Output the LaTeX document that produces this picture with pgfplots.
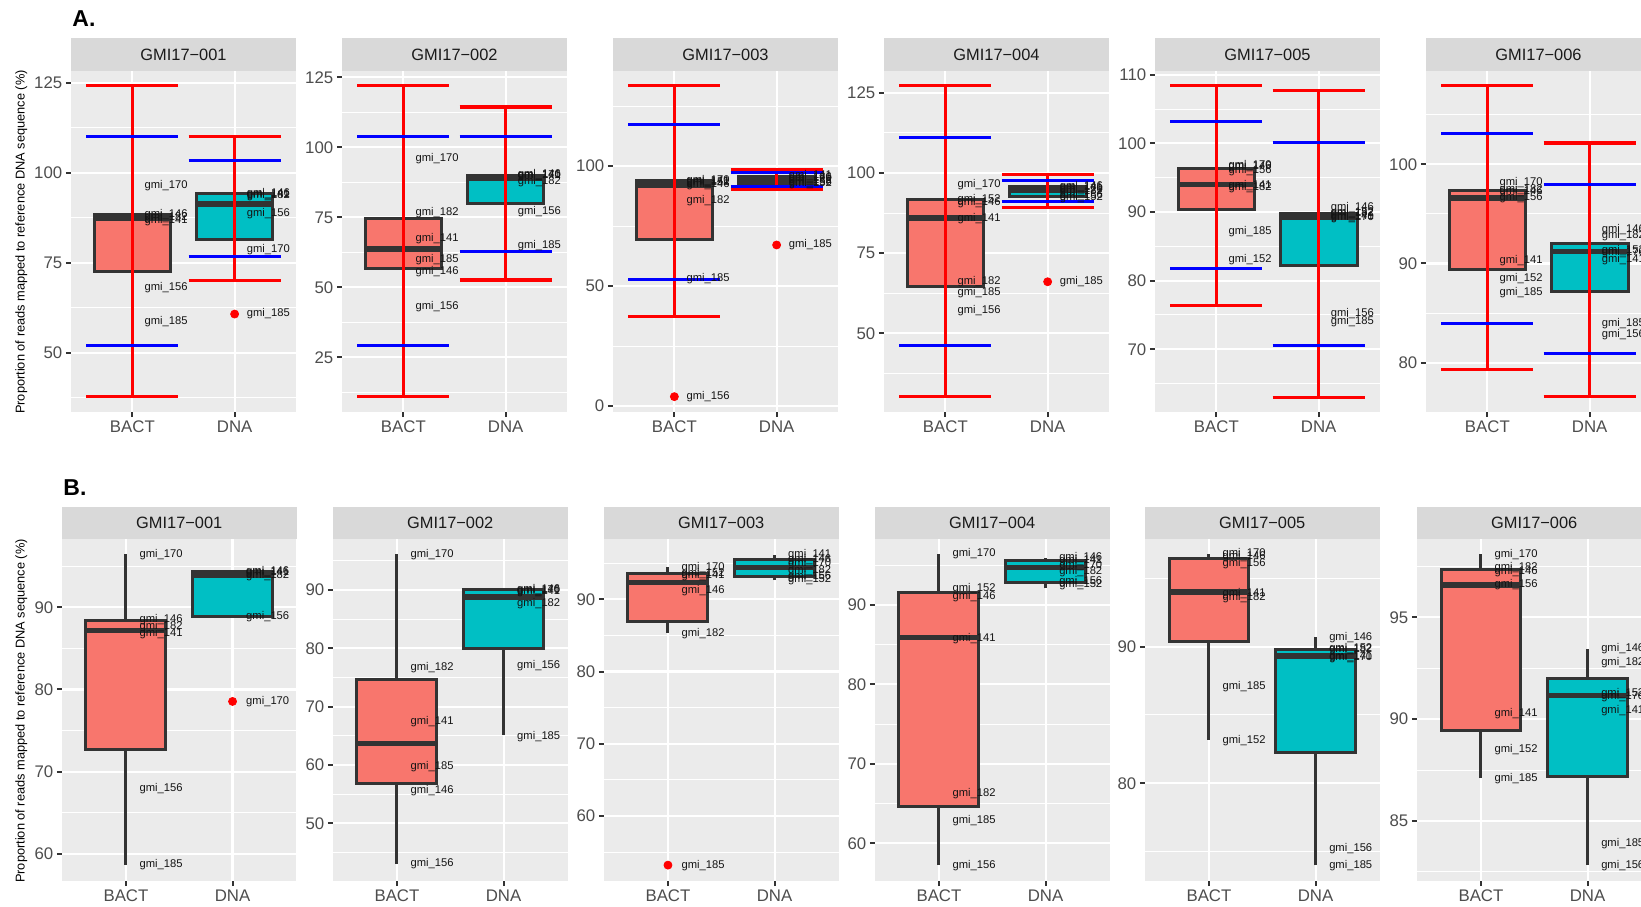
\documentclass[border=0pt]{standalone}
\usepackage{pgfplots}
\pgfplotsset{compat=1.18}
\usepackage{fontspec}
\setmainfont{Liberation Sans}

\definecolor{panelbg}{HTML}{EBEBEB}
\definecolor{stripbg}{HTML}{D9D9D9}
\definecolor{ggbox}{HTML}{333333}
\definecolor{ggtext}{HTML}{4D4D4D}
\definecolor{ggstrip}{HTML}{1A1A1A}
\definecolor{bactfill}{HTML}{F8766D}
\definecolor{dnafill}{HTML}{00BFC4}
\definecolor{ggred}{HTML}{FF0000}
\definecolor{ggblue}{HTML}{0000FF}

\pgfplotsset{
  facet/.style={
    scale only axis,
    xmin=0.4, xmax=2.6,
    xtick={1,2}, xticklabels={BACT,DNA},
    axis background/.style={fill=panelbg},
    axis line style={draw=none},
    xmajorgrids, ymajorgrids, yminorgrids,
    major grid style={white, line width=1.05pt},
    minor grid style={white, line width=0.5pt},
    tick align=outside, tick pos=left,
    major tick length=2.6pt, minor tick length=0pt,
    every tick/.style={ggbox, line width=1pt},
    tick label style={font=\fontsize{8.4}{10}\selectfont, text=ggtext},
    yticklabel style={inner sep=1.6pt},
    xticklabel style={inner sep=1.6pt},
    /pgf/number format/assume math mode=true,
    clip mode=individual,
    unbounded coords=jump,
  },
  rowA/.style={facet, width=112.5pt, height=170.5pt},
  rowB/.style={facet, width=117.25pt, height=171pt},
  lab/.style={draw=none, mark=none, point meta=explicit symbolic,
    nodes near coords={\pgfplotspointmeta}, nodes near coords align={center},
    every node near coord/.append style={anchor=center, inner sep=0pt,
      font=\fontsize{5.6}{6}\selectfont, text=black!92}},
}
\tikzset{
  strip/.style={fill=stripbg, inner sep=0pt, outer sep=0pt, anchor=south,
    text=ggstrip, font=\fontsize{8.2}{10}\selectfont},
}

% box: left, centre, right, lower whisker, lower quartile, median, upper quartile, upper whisker, fill
\newcommand{\bx}[9]{%
  \addplot[draw=ggbox, line width=1.5pt] coordinates {(#2,#4) (#2,#5) (#2,nan) (#2,#7) (#2,#8)};
  \addplot[draw=ggbox, line width=1.5pt, fill=#9] coordinates {(#1,#5) (#3,#5) (#3,#7) (#1,#7)} -- cycle;
  \addplot[draw=ggbox, line width=2.8pt] coordinates {(#1,#6) (#3,#6)};}
\newcommand{\bact}[5]{\bx{0.625}{1}{1.375}{#1}{#2}{#3}{#4}{#5}{bactfill}}
\newcommand{\dna}[5]{\bx{1.625}{2}{2.375}{#1}{#2}{#3}{#4}{#5}{dnafill}}
% error bars (low, high) and blue limits
\newcommand{\redB}[2]{\addplot[ggred, line width=1.6pt]
  coordinates {(0.55,#2) (1.45,#2) (1,nan) (1,#2) (1,#1) (1,nan) (0.55,#1) (1.45,#1)};}
\newcommand{\redD}[2]{\addplot[ggred, line width=1.6pt]
  coordinates {(1.55,#2) (2.45,#2) (2,nan) (2,#2) (2,#1) (2,nan) (1.55,#1) (2.45,#1)};}
\newcommand{\blueB}[2]{\addplot[ggblue, line width=1.5pt]
  coordinates {(0.55,#1) (1.45,#1) (1,nan) (0.55,#2) (1.45,#2)};}
\newcommand{\blueD}[2]{\addplot[ggblue, line width=1.5pt]
  coordinates {(1.55,#1) (2.45,#1) (2,nan) (1.55,#2) (2.45,#2)};}
\newcommand{\outl}[2]{\addplot[only marks, mark=*, mark size=2pt, ggred,
  mark options={draw=none}] coordinates {(#1,#2)};}

\begin{document}
\begin{tikzpicture}
\useasboundingbox (0,0) rectangle (820.5pt,453pt);

\node[font=\bfseries\fontsize{11.5}{12}\selectfont, anchor=base west, inner sep=0pt] at (36pt,439.5pt) {A.};
\node[font=\bfseries\fontsize{11.5}{12}\selectfont, anchor=base west, inner sep=0pt] at (31.5pt,205.5pt) {B.};
\node[rotate=90, font=\fontsize{6.4}{7}\selectfont, inner sep=0pt] at (10.7pt,332pt) {Proportion of reads mapped to reference DNA sequence (\%)};
\node[rotate=90, font=\fontsize{6.4}{7}\selectfont, inner sep=0pt] at (10.7pt,97.5pt) {Proportion of reads mapped to reference DNA sequence (\%)};

%% ---------------- row A ----------------
\begin{axis}[rowA, at={(35.5pt,247pt)}, anchor=south west,
  ymin=33.6, ymax=128.3, ytick={50,75,100,125}, minor ytick={37.5,62.5,87.5,112.5}]
  \bact{72.7}{72.7}{87.3}{88.5}{88.5}
  \dna{81.4}{81.4}{91.4}{94.4}{94.4}
  \redB{37.9}{124.2} \blueB{52.2}{110.0}
  \redD{70.1}{110.2} \blueD{76.9}{103.5}
  \outl{2}{60.8}
  \addplot[lab] coordinates {(1.33,96.5) [gmi\_170] (1.33,88.45) [gmi\_146] (1.33,87.6) [gmi\_182]
    (1.33,86.75) [gmi\_141] (1.33,68.1) [gmi\_156] (1.33,58.7) [gmi\_185]
    (2.33,94.3) [gmi\_146] (2.33,94.1) [gmi\_141] (2.33,93.8) [gmi\_182] (2.33,88.8) [gmi\_156]
    (2.33,78.8) [gmi\_170] (2.33,60.8) [gmi\_185]};
  \node[strip, minimum width=112.5pt, minimum height=16.5pt] at (rel axis cs:0.5,1) {GMI17−001};
\end{axis}

\begin{axis}[rowA, at={(171pt,247pt)}, anchor=south west,
  ymin=5.5, ymax=127.25, ytick={25,50,75,100,125}, minor ytick={12.5,37.5,62.5,87.5,112.5}]
  \bact{56.8}{56.8}{63.8}{74.6}{74.6}
  \dna{79.9}{79.9}{88.8}{90.1}{90.1}
  \redB{10.9}{122.0} \blueB{29.4}{103.7}
  \redD{52.6}{114.4} \blueD{62.7}{104.0}
  \addplot[lab] coordinates {(1.33,96.1) [gmi\_170] (1.33,76.8) [gmi\_182] (1.33,67.3) [gmi\_141]
    (1.33,59.8) [gmi\_185] (1.33,55.6) [gmi\_146] (1.33,43.1) [gmi\_156]
    (2.33,90.1) [gmi\_146] (2.33,89.95) [gmi\_170] (2.33,89.8) [gmi\_141] (2.33,87.6) [gmi\_182]
    (2.33,77.1) [gmi\_156] (2.33,64.9) [gmi\_185]};
  \node[strip, minimum width=112.5pt, minimum height=16.5pt] at (rel axis cs:0.5,1) {GMI17−002};
\end{axis}

\begin{axis}[rowA, at={(306.5pt,247pt)}, anchor=south west,
  ymin=-2.5, ymax=139.6, ytick={0,50,100}, minor ytick={25,75,125}]
  \bact{69.2}{69.2}{92.0}{93.8}{93.8}
  \dna{92.5}{92.5}{94.0}{95.6}{95.6}
  \redB{37.2}{133.5} \blueB{52.9}{117.4}
  \redD{90.3}{98.6} \blueD{91.4}{97.2}
  \outl{1}{3.9} \outl{2}{67.1}
  \addplot[lab] coordinates {(1.33,93.8) [gmi\_170] (1.33,93.4) [gmi\_141] (1.33,92.9) [gmi\_152]
    (1.33,92.1) [gmi\_146] (1.33,85.4) [gmi\_182] (1.33,53.2) [gmi\_185] (1.33,3.9) [gmi\_156]
    (2.33,96.0) [gmi\_141] (2.33,95.3) [gmi\_146] (2.33,94.6) [gmi\_170] (2.33,93.9) [gmi\_182]
    (2.33,93.0) [gmi\_156] (2.33,92.6) [gmi\_152] (2.33,67.1) [gmi\_185]};
  \node[strip, minimum width=112.5pt, minimum height=16.5pt] at (rel axis cs:0.5,1) {GMI17−003};
\end{axis}

\begin{axis}[rowA, at={(442pt,247pt)}, anchor=south west,
  ymin=25.5, ymax=131.8, ytick={50,75,100,125}, minor ytick={37.5,62.5,87.5,112.5}]
  \bact{64.55}{64.55}{86.0}{91.6}{91.6}
  \dna{92.8}{92.8}{94.6}{95.7}{95.7}
  \redB{30.25}{127.2} \blueB{46.35}{111.2}
  \redD{89.3}{99.5} \blueD{91.0}{97.6}
  \outl{2}{66.1}
  \addplot[lab] coordinates {(1.33,96.5) [gmi\_170] (1.33,91.8) [gmi\_152] (1.33,90.9) [gmi\_146]
    (1.33,85.75) [gmi\_141] (1.33,66.1) [gmi\_182] (1.33,62.8) [gmi\_185] (1.33,57.1) [gmi\_156]
    (2.33,95.9) [gmi\_146] (2.33,95.5) [gmi\_141] (2.33,94.8) [gmi\_170] (2.33,94.1) [gmi\_182]
    (2.33,92.9) [gmi\_156] (2.33,92.3) [gmi\_152] (2.33,66.1) [gmi\_185]};
  \node[strip, minimum width=112.5pt, minimum height=16.5pt] at (rel axis cs:0.5,1) {GMI17−004};
\end{axis}

\begin{axis}[rowA, at={(577.5pt,247pt)}, anchor=south west,
  ymin=60.85, ymax=110.55, ytick={70,80,90,100,110}, minor ytick={65,75,85,95,105}]
  \bact{90.3}{90.3}{94.0}{96.4}{96.4}
  \dna{82.2}{82.2}{89.3}{89.8}{89.8}
  \redB{76.4}{108.4} \blueB{81.75}{103.15}
  \redD{63.0}{107.7} \blueD{70.55}{100.2}
  \addplot[lab] coordinates {(1.33,96.8) [gmi\_170] (1.33,96.6) [gmi\_146] (1.33,96.1) [gmi\_156]
    (1.33,93.9) [gmi\_141] (1.33,93.6) [gmi\_182] (1.33,87.1) [gmi\_185] (1.33,83.1) [gmi\_152]
    (2.33,90.7) [gmi\_146] (2.33,89.85) [gmi\_152] (2.33,89.75) [gmi\_182] (2.33,89.3) [gmi\_141]
    (2.33,89.2) [gmi\_170] (2.33,75.2) [gmi\_156] (2.33,74.0) [gmi\_185]};
  \node[strip, minimum width=112.5pt, minimum height=16.5pt] at (rel axis cs:0.5,1) {GMI17−005};
\end{axis}

\begin{axis}[rowA, at={(713pt,247pt)}, anchor=south west,
  ymin=75.03, ymax=109.4, ytick={80,90,100}, minor ytick={85,95,105}]
  \bact{89.35}{89.35}{96.6}{97.4}{97.4}
  \dna{87.15}{87.15}{91.2}{92.0}{92.0}
  \redB{79.3}{107.9} \blueB{84.0}{103.1}
  \redD{76.6}{102.15} \blueD{80.95}{98.0}
  \addplot[lab] coordinates {(1.33,98.1) [gmi\_170] (1.33,97.45) [gmi\_182] (1.33,97.25) [gmi\_146]
    (1.33,96.6) [gmi\_156] (1.33,90.25) [gmi\_141] (1.33,88.5) [gmi\_152] (1.33,87.1) [gmi\_185]
    (2.33,93.45) [gmi\_146] (2.33,92.8) [gmi\_182] (2.33,91.25) [gmi\_152] (2.33,91.1) [gmi\_170]
    (2.33,90.4) [gmi\_141] (2.33,83.9) [gmi\_185] (2.33,82.8) [gmi\_156]};
  \node[strip, minimum width=112.5pt, minimum height=16.5pt] at (rel axis cs:0.5,1) {GMI17−006};
\end{axis}

%% ---------------- row B ----------------
\begin{axis}[rowB, at={(31pt,12.5pt)}, anchor=south west,
  ymin=56.7, ymax=98.3, ytick={60,70,80,90}, minor ytick={65,75,85,95}]
  \bact{58.66}{72.66}{87.15}{88.4}{96.45}
  \dna{88.86}{88.86}{93.9}{94.33}{94.33}
  \outl{2}{78.54}
  \addplot[lab] coordinates {(1.33,96.45) [gmi\_170] (1.33,88.45) [gmi\_146] (1.33,87.6) [gmi\_182]
    (1.33,86.75) [gmi\_141] (1.33,68.0) [gmi\_156] (1.33,58.66) [gmi\_185]
    (2.33,94.35) [gmi\_146] (2.33,94.2) [gmi\_141] (2.33,93.9) [gmi\_182] (2.33,88.86) [gmi\_156]
    (2.33,78.54) [gmi\_170]};
  \node[strip, minimum width=117.25pt, minimum height=16pt] at (rel axis cs:0.5,1) {GMI17−001};
\end{axis}

\begin{axis}[rowB, at={(166.5pt,12.5pt)}, anchor=south west,
  ymin=40.1, ymax=98.74, ytick={50,60,70,80,90}, minor ytick={45,55,65,75,85,95}]
  \bact{43.1}{56.86}{63.7}{74.57}{96.1}
  \dna{65.1}{79.9}{88.75}{90.05}{90.05}
  \addplot[lab] coordinates {(1.33,96.1) [gmi\_170] (1.33,76.7) [gmi\_182] (1.33,67.4) [gmi\_141]
    (1.33,59.8) [gmi\_185] (1.33,55.6) [gmi\_146] (1.33,43.1) [gmi\_156]
    (2.33,90.1) [gmi\_146] (2.33,89.95) [gmi\_170] (2.33,89.8) [gmi\_141] (2.33,87.6) [gmi\_182]
    (2.33,77.1) [gmi\_156] (2.33,64.9) [gmi\_185]};
  \node[strip, minimum width=117.25pt, minimum height=16pt] at (rel axis cs:0.5,1) {GMI17−002};
\end{axis}

\begin{axis}[rowB, at={(302pt,12.5pt)}, anchor=south west,
  ymin=51.0, ymax=98.35, ytick={60,70,80,90}, minor ytick={55,65,75,85,95}]
  \bact{85.4}{86.86}{92.3}{93.6}{94.5}
  \dna{92.67}{93.2}{94.4}{95.45}{96.2}
  \outl{1}{53.2}
  \addplot[lab] coordinates {(1.33,94.4) [gmi\_170] (1.33,93.6) [gmi\_152] (1.33,93.3) [gmi\_141]
    (1.33,91.2) [gmi\_146] (1.33,85.3) [gmi\_182] (1.33,53.2) [gmi\_185]
    (2.33,96.2) [gmi\_141] (2.33,95.5) [gmi\_146] (2.33,94.9) [gmi\_170] (2.33,94.0) [gmi\_182]
    (2.33,93.2) [gmi\_156] (2.33,92.7) [gmi\_152]};
  \node[strip, minimum width=117.25pt, minimum height=16pt] at (rel axis cs:0.5,1) {GMI17−003};
\end{axis}

\begin{axis}[rowB, at={(437.5pt,12.5pt)}, anchor=south west,
  ymin=55.25, ymax=98.3, ytick={60,70,80,90}, minor ytick={65,75,85,95}]
  \bact{57.25}{64.6}{85.9}{91.55}{96.4}
  \dna{92.1}{92.86}{94.7}{95.6}{95.9}
  \addplot[lab] coordinates {(1.33,96.4) [gmi\_170] (1.33,92.0) [gmi\_152] (1.33,91.0) [gmi\_146]
    (1.33,85.8) [gmi\_141] (1.33,66.3) [gmi\_182] (1.33,62.9) [gmi\_185] (1.33,57.25) [gmi\_156]
    (2.33,95.9) [gmi\_146] (2.33,95.6) [gmi\_141] (2.33,94.9) [gmi\_170] (2.33,94.2) [gmi\_182]
    (2.33,92.9) [gmi\_156] (2.33,92.5) [gmi\_152]};
  \node[strip, minimum width=117.25pt, minimum height=16pt] at (rel axis cs:0.5,1) {GMI17−004};
\end{axis}

\begin{axis}[rowB, at={(572.5pt,12.5pt)}, anchor=south west,
  ymin=72.85, ymax=97.88, ytick={80,90}, minor ytick={75,85,95}]
  \bact{83.2}{90.4}{94.0}{96.47}{96.76}
  \dna{74.0}{82.25}{89.3}{89.76}{90.7}
  \addplot[lab] coordinates {(1.33,96.8) [gmi\_170] (1.33,96.6) [gmi\_146] (1.33,96.1) [gmi\_156]
    (1.33,93.9) [gmi\_141] (1.33,93.6) [gmi\_182] (1.33,87.1) [gmi\_185] (1.33,83.1) [gmi\_152]
    (2.33,90.7) [gmi\_146] (2.33,89.85) [gmi\_152] (2.33,89.75) [gmi\_182] (2.33,89.3) [gmi\_141]
    (2.33,89.2) [gmi\_170] (2.33,75.2) [gmi\_156] (2.33,74.0) [gmi\_185]};
  \node[strip, minimum width=117.25pt, minimum height=16pt] at (rel axis cs:0.5,1) {GMI17−005};
\end{axis}

\begin{axis}[rowB, at={(708.5pt,12.5pt)}, anchor=south west,
  ymin=82.05, ymax=98.85, ytick={85,90,95}, minor ytick={82.5,87.5,92.5,97.5}]
  \bact{87.1}{89.43}{96.6}{97.36}{98.1}
  \dna{82.85}{87.18}{91.16}{92.0}{93.45}
  \addplot[lab] coordinates {(1.33,98.1) [gmi\_170] (1.33,97.45) [gmi\_182] (1.33,97.25) [gmi\_146]
    (1.33,96.6) [gmi\_156] (1.33,90.25) [gmi\_141] (1.33,88.5) [gmi\_152] (1.33,87.1) [gmi\_185]
    (2.33,93.45) [gmi\_146] (2.33,92.8) [gmi\_182] (2.33,91.25) [gmi\_152] (2.33,91.1) [gmi\_170]
    (2.33,90.4) [gmi\_141] (2.33,83.9) [gmi\_185] (2.33,82.8) [gmi\_156]};
  \node[strip, minimum width=117.25pt, minimum height=16pt] at (rel axis cs:0.5,1) {GMI17−006};
\end{axis}
\end{tikzpicture}
\end{document}
